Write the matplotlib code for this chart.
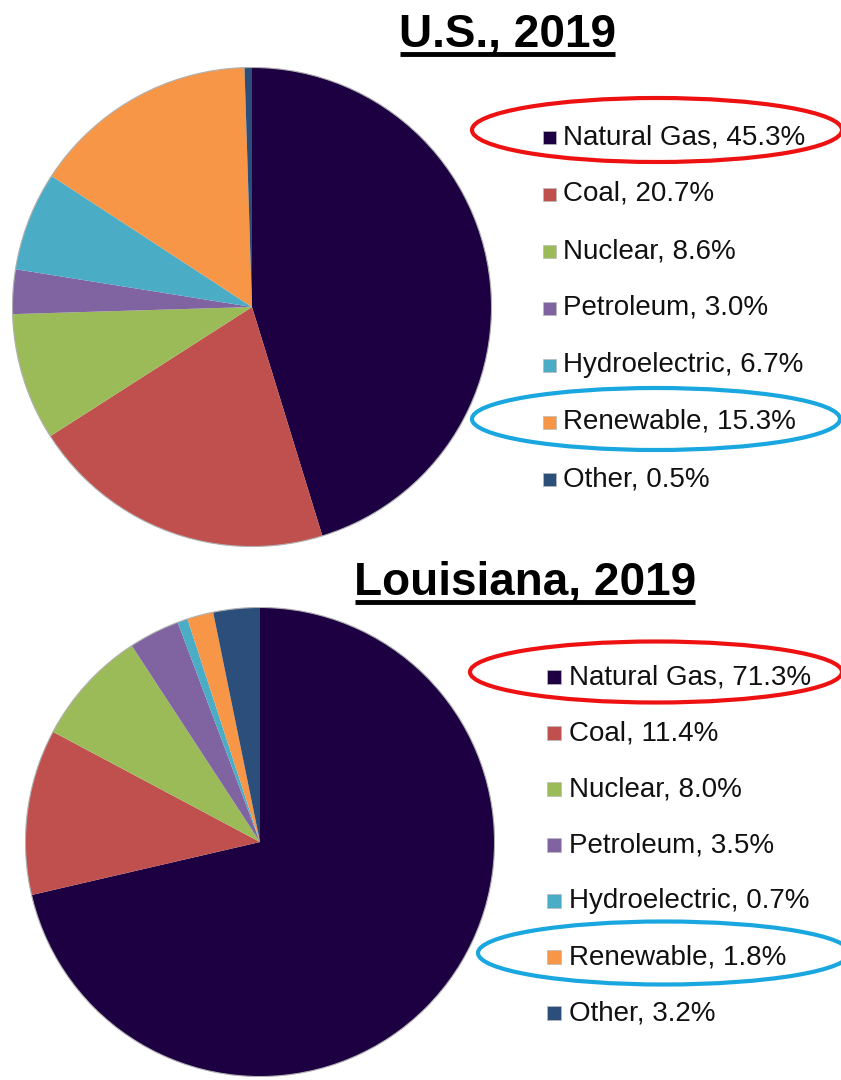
import matplotlib.pyplot as plt
from matplotlib.patches import Ellipse, Rectangle, Circle

# Data
sources = ['Natural Gas', 'Coal', 'Nuclear', 'Petroleum', 'Hydroelectric', 'Renewable', 'Other']
us_share = [45.3, 20.7, 8.6, 3.0, 6.7, 15.3, 0.5]
la_share = [71.3, 11.4, 8.0, 3.5, 0.7, 1.8, 3.2]
colors = ['#1c0042', '#c0504d', '#9bbb59', '#8064a2', '#4bacc6', '#f79646', '#2b4f7a']

W, H = 841, 1080
fig = plt.figure(figsize=(W / 100, H / 100), dpi=100)
plt.rcParams['font.family'] = 'Liberation Sans'


def pie_axes(cx, cy, r):
    # pixel box (top-left origin) -> figure fraction
    return fig.add_axes([(cx - r) / W, (H - cy - r) / H, 2 * r / W, 2 * r / H])


# overlay axes in pixel coordinates for titles, legends, ellipses
ov = fig.add_axes([0, 0, 1, 1], zorder=5)
ov.set_xlim(0, W)
ov.set_ylim(H, 0)
ov.axis('off')

# title x, baseline y, underline y, legend x, first row y, row step, marker size
panels = [
    ('U.S., 2019', us_share, (252, 307, 240), 508, 47, 54, 543, 563, 137, 57, 13),
    ('Louisiana, 2019', la_share, (260, 842, 235), 525, 595, 602, 547, 569, 677, 56, 14),
]

for title, share, (cx, cy, r), tx, ty, uy, mx, lx, ly0, step, ms in panels:
    ax = pie_axes(cx, cy, r)
    ax.pie(share, colors=colors, startangle=90, counterclock=False,
           wedgeprops=dict(linewidth=0))
    ax.add_patch(Circle((0, 0), 1, fill=False, edgecolor='#b0b0b0', linewidth=0.8))
    ax.set_xlim(-1.002, 1.002)
    ax.set_ylim(-1.002, 1.002)
    ax.axis('off')

    # title with underline
    t = ov.text(tx, ty, title, fontsize=33, fontweight='bold', ha='center', va='baseline')
    fig.canvas.draw()
    bb = t.get_window_extent()
    ov.plot([bb.x0 + 1, bb.x1 - 1], [uy, uy], color='black', linewidth=3.5,
            solid_capstyle='butt')

    # legend
    for i, (name, val) in enumerate(zip(sources, share)):
        y = ly0 + i * step
        ov.add_patch(Rectangle((mx, y - ms / 2), ms, ms, facecolor=colors[i],
                               edgecolor='#bbbbbb', linewidth=0.5))
        ov.text(lx, y, f'{name}, {val:.1f}%', fontsize=20, va='center', ha='left',
                color='#111111')

# highlight ellipses
ov.add_patch(Ellipse((657, 130), 370, 64, fill=False, edgecolor='#ee1111', linewidth=3))
ov.add_patch(Ellipse((656, 419), 368, 62, fill=False, edgecolor='#1aa7e0', linewidth=3))
ov.add_patch(Ellipse((656, 672), 372, 61, fill=False, edgecolor='#ee1111', linewidth=3))
ov.add_patch(Ellipse((664, 953), 372, 63, fill=False, edgecolor='#1aa7e0', linewidth=3))

fig.savefig('out.png', dpi=100)
